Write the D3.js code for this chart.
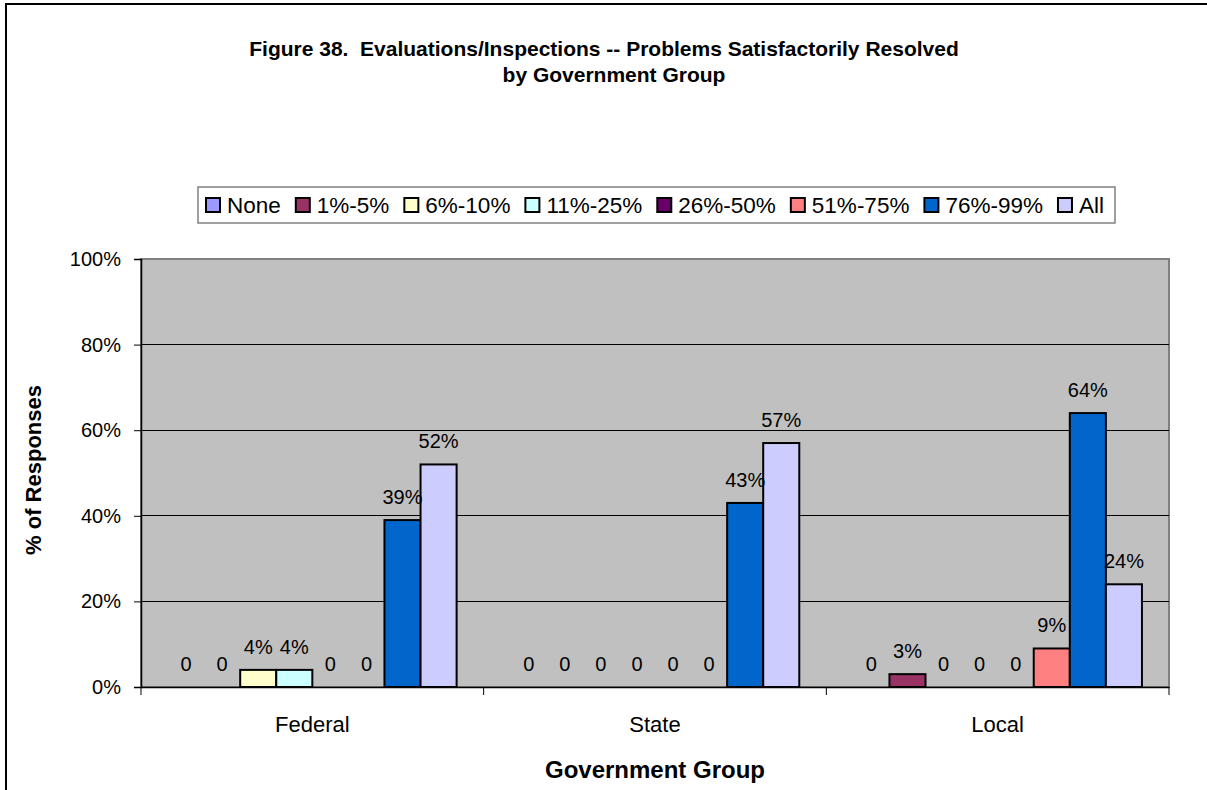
<!DOCTYPE html>
<html>
<head>
<meta charset="utf-8">
<script src="https://cdn.jsdelivr.net/npm/d3@7"></script>
<style>
    body { margin: 0; background: #fff; }
    svg { display: block; font-family: "Liberation Sans", Arial, sans-serif; }
</style>
</head>
<body>
<svg id="chart" width="1207" height="790"></svg>
<script>
// Chart data
var categories = ['Federal', 'State', 'Local'];
var series = ['None', '1%-5%', '6%-10%', '11%-25%', '26%-50%', '51%-75%', '76%-99%', 'All'];
var colors = ['#9999FF', '#993366', '#FFFFCC', '#CCFFFF', '#660066', '#FF8080', '#0066CC', '#CCCCFF'];
var federal = [0, 0, 4, 4, 0, 0, 39, 52];
var state = [0, 0, 0, 0, 0, 0, 43, 57];
var local = [0, 3, 0, 0, 0, 9, 64, 24];
var yTicks = [0, 20, 40, 60, 80, 100];

var values = [federal, state, local];

var svg = d3.select('#chart');

var plot = { left: 141, top: 259, right: 1169, bottom: 687 };

// outer chart border
svg.append('rect')
    .attr('x', 6).attr('y', 4)
    .attr('width', 1215).attr('height', 810)
    .attr('fill', '#fff')
    .attr('stroke', '#000')
    .attr('stroke-width', 2);

// title
var title = svg.append('text')
    .attr('text-anchor', 'middle')
    .attr('font-size', '21px')
    .attr('font-weight', 'bold')
    .attr('fill', '#000')
    .style('white-space', 'pre');
title.append('tspan').attr('x', 604).attr('y', 56)
    .text('Figure 38.  Evaluations/Inspections -- Problems Satisfactorily Resolved');
title.append('tspan').attr('x', 614).attr('y', 82)
    .text('by Government Group');

var x0 = d3.scaleBand()
    .domain(categories)
    .range([plot.left, plot.right])
    .padding(0);

var x1 = d3.scaleBand()
    .domain(series)
    .range([0, x0.bandwidth()])
    .paddingInner(0)
    .paddingOuter(0.75);

var y = d3.scaleLinear()
    .domain([0, 100])
    .range([plot.bottom, plot.top]);

// plot area
svg.append('rect')
    .attr('x', plot.left).attr('y', plot.top)
    .attr('width', plot.right - plot.left)
    .attr('height', plot.bottom - plot.top)
    .attr('fill', '#C0C0C0')
    .attr('stroke', '#808080')
    .attr('stroke-width', 2);

// gridlines
svg.append('g').selectAll('line')
    .data(yTicks.filter(function(d) { return d > 0 && d < 100; }))
    .join('line')
    .attr('x1', plot.left).attr('x2', plot.right)
    .attr('y1', function(d) { return y(d); })
    .attr('y2', function(d) { return y(d); })
    .attr('stroke', '#000')
    .attr('stroke-width', 1)
    .attr('shape-rendering', 'crispEdges');

// y axis
var yAxis = svg.append('g')
    .attr('transform', 'translate(' + plot.left + ',0)')
    .call(d3.axisLeft(y)
        .tickValues(yTicks)
        .tickSize(7)
        .tickPadding(13)
        .tickFormat(function(d) { return d + '%'; }));
yAxis.select('.domain').attr('stroke', '#000').attr('stroke-width', 1.5);
yAxis.selectAll('.tick line').attr('stroke', '#000');
yAxis.selectAll('.tick text')
    .attr('font-size', '20px')
    .attr('font-family', '"Liberation Sans", Arial, sans-serif')
    .attr('fill', '#000');

// x axis
var xAxis = svg.append('g')
    .attr('transform', 'translate(0,' + plot.bottom + ')')
    .call(d3.axisBottom(x0).tickSize(0).tickPadding(29));
xAxis.select('.domain').attr('stroke', '#000').attr('stroke-width', 1.5);
xAxis.selectAll('.tick text')
    .attr('font-size', '22px')
    .attr('font-family', '"Liberation Sans", Arial, sans-serif')
    .attr('fill', '#000');

// category separator ticks
var sepX = [plot.left].concat(categories.map(function(c) { return x0(c) + x0.bandwidth(); }));
svg.append('g').selectAll('line')
    .data(sepX)
    .join('line')
    .attr('x1', function(d) { return d; })
    .attr('x2', function(d) { return d; })
    .attr('y1', plot.bottom)
    .attr('y2', plot.bottom + 8)
    .attr('stroke', '#000')
    .attr('stroke-width', 1);

// bars and labels
var groups = svg.append('g').selectAll('g')
    .data(categories)
    .join('g')
    .attr('transform', function(c) { return 'translate(' + x0(c) + ',0)'; });

groups.selectAll('rect')
    .data(function(c, i) { return values[i].map(function(v, j) { return { s: series[j], v: v, color: colors[j] }; }); })
    .join('rect')
    .filter(function(d) { return d.v > 0; })
    .attr('x', function(d) { return x1(d.s); })
    .attr('y', function(d) { return y(d.v); })
    .attr('width', x1.bandwidth())
    .attr('height', function(d) { return y(0) - y(d.v); })
    .attr('fill', function(d) { return d.color; })
    .attr('stroke', '#000')
    .attr('stroke-width', 2);

groups.selectAll('text')
    .data(function(c, i) { return values[i].map(function(v, j) { return { s: series[j], v: v }; }); })
    .join('text')
    .attr('x', function(d) { return x1(d.s) + x1.bandwidth() / 2; })
    .attr('y', function(d) { return y(d.v) - 16; })
    .attr('text-anchor', 'middle')
    .attr('font-size', '20px')
    .attr('fill', '#000')
    .text(function(d) { return d.v === 0 ? '0' : d.v + '%'; });

// axis titles
svg.append('text')
    .attr('transform', 'translate(41,' + ((plot.top + plot.bottom) / 2 - 3) + ') rotate(-90)')
    .attr('text-anchor', 'middle')
    .attr('font-size', '22px')
    .attr('font-weight', 'bold')
    .text('% of Responses');

svg.append('text')
    .attr('x', (plot.left + plot.right) / 2)
    .attr('y', 778)
    .attr('text-anchor', 'middle')
    .attr('font-size', '24px')
    .attr('font-weight', 'bold')
    .text('Government Group');

// legend
var legend = svg.append('g');
var legendBox = legend.append('rect')
    .attr('fill', '#fff')
    .attr('stroke', '#808080')
    .attr('stroke-width', 1.5);

var lx = 206;
series.forEach(function(s, i) {
    legend.append('rect')
        .attr('x', lx).attr('y', 198)
        .attr('width', 14).attr('height', 14)
        .attr('fill', colors[i])
        .attr('stroke', '#000')
        .attr('stroke-width', 2);
    var t = legend.append('text')
        .attr('x', lx + 21).attr('y', 213)
        .attr('font-size', '22.5px')
        .text(s);
    lx += 21 + t.node().getComputedTextLength() + 15;
});
legendBox
    .attr('x', 198).attr('y', 187)
    .attr('width', lx - 15 + 11 - 198)
    .attr('height', 36);
</script>
</body>
</html>
